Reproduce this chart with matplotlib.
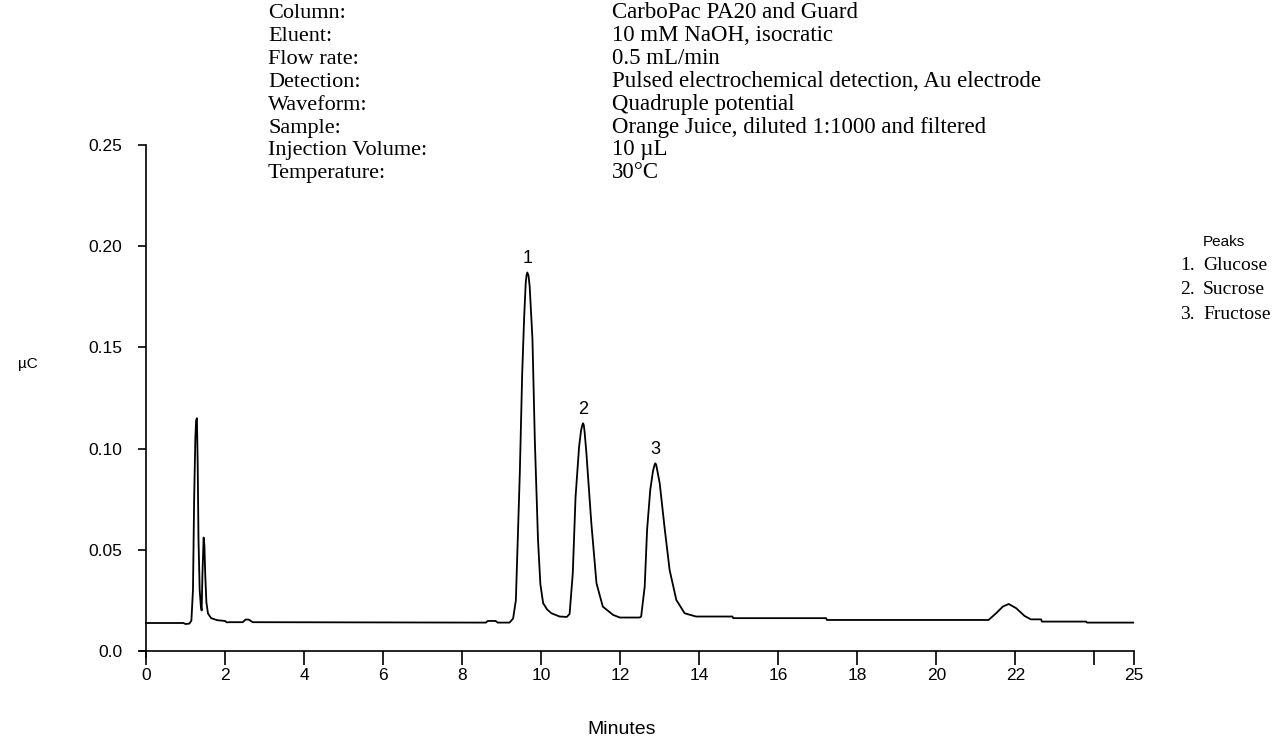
import matplotlib
matplotlib.use("Agg")
import matplotlib.pyplot as plt

# chromatogram trace (minutes, uC)
minutes = [
    0.0, 0.95, 1.0, 1.1, 1.15, 1.19, 1.22, 1.25, 1.27, 1.29, 1.31, 1.33, 1.36, 1.39,
    1.41, 1.43, 1.46, 1.48, 1.50, 1.53, 1.57, 1.65, 1.8, 2.0, 2.05, 2.1, 2.45, 2.52,
    2.6, 2.7, 8.6, 8.65, 8.85, 8.9, 9.2, 9.29, 9.36, 9.40, 9.46, 9.52, 9.57, 9.61,
    9.63, 9.65, 9.68, 9.71, 9.78, 9.84, 9.92, 9.98, 10.05, 10.15, 10.26, 10.47, 10.65,
    10.72, 10.80, 10.87, 10.96, 11.01, 11.04, 11.06, 11.08, 11.10, 11.14, 11.27, 11.40,
    11.56, 11.82, 11.99, 12.49, 12.53, 12.62, 12.68, 12.76, 12.83, 12.87, 12.89,
    12.91, 12.94, 13.00, 13.12, 13.25, 13.42, 13.63, 13.92, 14.84, 14.86, 17.21,
    17.23, 21.32, 21.51, 21.68, 21.83, 22.02, 22.23, 22.39, 22.65, 22.67, 23.79,
    23.81, 25.0,
]
signal = [
    0.0138, 0.0138, 0.0133, 0.0135, 0.0150, 0.030, 0.075, 0.105, 0.114, 0.115, 0.092,
    0.055, 0.030, 0.022, 0.020, 0.038, 0.056, 0.052, 0.038, 0.024, 0.0185, 0.0162,
    0.0152, 0.0148, 0.0141, 0.0142, 0.0142, 0.0155, 0.0155, 0.0142, 0.0140, 0.0148,
    0.0148, 0.0140, 0.0140, 0.0160, 0.025, 0.050, 0.088, 0.137, 0.165, 0.182,
    0.1855, 0.187, 0.1855, 0.180, 0.154, 0.104, 0.055, 0.033, 0.0236, 0.0205, 0.0186,
    0.0170, 0.0168, 0.0183, 0.0384, 0.076, 0.101, 0.109, 0.1115, 0.1125, 0.1115,
    0.108, 0.099, 0.063, 0.0334, 0.0219, 0.0178, 0.0165, 0.0165, 0.0170, 0.0318,
    0.0598, 0.0795, 0.089, 0.0920, 0.0927, 0.0920, 0.089, 0.0828, 0.0614, 0.040,
    0.0252, 0.0186, 0.0170, 0.0170, 0.0162, 0.0162, 0.0153, 0.0153, 0.0186, 0.0219,
    0.0232, 0.0211, 0.0173, 0.0156, 0.0156, 0.0145, 0.0145, 0.0140, 0.0140,
]

peak_ids = ["1", "2", "3"]
peak_times = [9.65, 11.06, 12.89]
peak_heights = [0.187, 0.1125, 0.0927]
peak_names = ["Glucose", "Sucrose", "Fructose"]

cond_labels = ["Column:", "Eluent:", "Flow rate:", "Detection:", "Waveform:",
               "Sample:", "Injection Volume:", "Temperature:"]
cond_values = ["CarboPac PA20 and Guard", "10 mM NaOH, isocratic", "0.5 mL/min",
               "Pulsed electrochemical detection, Au electrode", "Quadruple potential",
               "Orange Juice, diluted 1:1000 and filtered", "10 \u00b5L", "30\u00b0C"]

xticks = [0, 2, 4, 6, 8, 10, 12, 14, 16, 18, 20, 22, 24, 25]
xticklabels = ["0", "2", "4", "6", "8", "10", "12", "14", "16", "18", "20", "22", "", "25"]
yticks = [0.0, 0.05, 0.10, 0.15, 0.20, 0.25]
yticklabels = ["0.0", "0.05", "0.10", "0.15", "0.20", "0.25"]

W, H = 1276, 739
plt.rcParams["font.family"] = ["Liberation Sans", "DejaVu Sans"]
fig = plt.figure(figsize=(W / 100, H / 100), dpi=100)

# axes placed in pixels: x 0..25 -> 146..1134, y 0..0.25 -> 651..145
left_px, right_px = 140, 1134
top_px, bot_px = 145, 657
ax = fig.add_axes([left_px / W, 1 - bot_px / H, (right_px - left_px) / W, (bot_px - top_px) / H])
ax.plot(minutes, signal, color="black", lw=1.3)
ax.set_xlim(-0.15, 25)
ax.set_ylim(-0.003, 0.25)

for s in ["top", "right"]:
    ax.spines[s].set_visible(False)
ax.spines["left"].set_position(("data", 0))
ax.spines["bottom"].set_position(("data", 0))
for s in ["left", "bottom"]:
    ax.spines[s].set_linewidth(1.2)

ax.set_xticks(xticks)
ax.set_xticklabels(xticklabels)
ax.set_yticks(yticks)
ax.set_yticklabels(yticklabels)
ax.tick_params(axis="x", direction="out", length=10, width=1.2, pad=2, labelsize=12.5)
ax.tick_params(axis="y", direction="out", length=6, width=1.2, pad=11, labelsize=12.5)

for pid, pt, ph in zip(peak_ids, peak_times, peak_heights):
    ax.annotate(pid, (pt, ph), xytext=(0, 4), textcoords="offset points",
                ha="center", va="bottom", fontsize=13)

def fx(px):
    return px / W

def fy(py):
    return 1 - py / H

fig.text(fx(622), fy(730), "Minutes", ha="center", va="center", fontsize=14)
fig.text(fx(28), fy(364), "\u00b5C", ha="center", va="center", fontsize=11)

serif = ["Liberation Serif", "DejaVu Serif"]
for i, (lab, val) in enumerate(zip(cond_labels, cond_values)):
    y = 18 + i * 22.9
    fig.text(fx(268), fy(y), lab, ha="left", va="baseline", fontsize=16, family=serif)
    fig.text(fx(612), fy(y), val, ha="left", va="baseline", fontsize=16.5, family=serif)

fig.text(fx(1203), fy(242), "Peaks", ha="left", va="center", fontsize=11)
for i, name in enumerate(peak_names):
    y = 266 + i * 24
    fig.text(fx(1180), fy(y), peak_ids[i] + ".", ha="left", va="center", fontsize=14, family=serif)
    fig.text(fx(1203), fy(y), name, ha="left", va="center", fontsize=14, family=serif)

fig.savefig("out.png", dpi=100)
